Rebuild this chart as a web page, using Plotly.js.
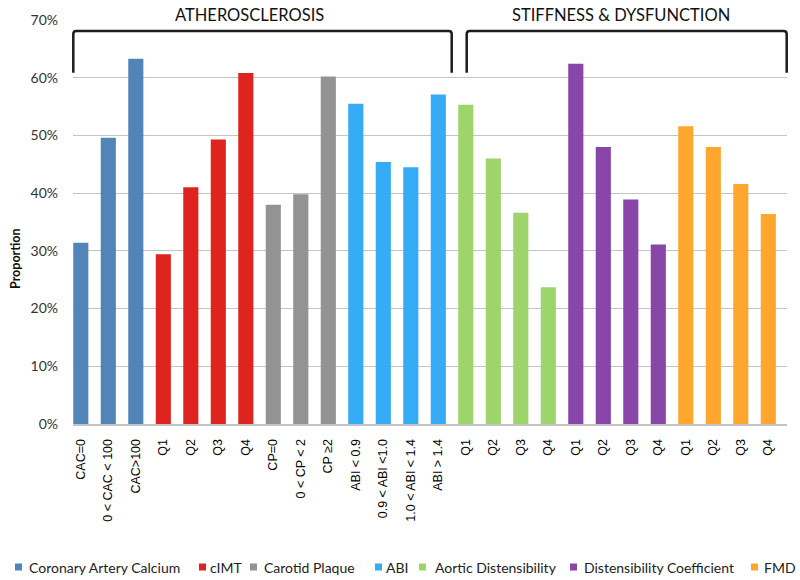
<!DOCTYPE html>
<html>
<head>
<meta charset="utf-8">
<script src="https://cdn.plot.ly/plotly-3.0.1.min.js"></script>
<style>html,body{margin:0;padding:0;background:#fff;}#chart{width:800px;height:580px;}</style>
</head>
<body>
<div id="chart"></div>
<script>
// ---- Data ----
const seriesNames = ["Coronary Artery Calcium", "cIMT", "Carotid Plaque", "ABI",
                     "Aortic Distensibility", "Distensibility Coefficient", "FMD"];
const cacLabels = ["CAC=0", "0 < CAC < 100", "CAC>100"];
const cacValues = [31.4, 49.6, 63.3];
const cimtLabels = ["Q1", "Q2", "Q3", "Q4"];
const cimtValues = [29.4, 41.0, 49.3, 60.8];
const cpLabels = ["CP=0", "0 < CP < 2", "CP \u22652"];
const cpValues = [38.0, 39.8, 60.2];
const abiLabels = ["ABI < 0.9", "0.9 < ABI <1.0", "1.0 < ABI < 1.4", "ABI > 1.4"];
const abiValues = [55.5, 45.4, 44.5, 57.1];
const adLabels = ["Q1", "Q2", "Q3", "Q4"];
const adValues = [55.3, 46.0, 36.6, 23.7];
const dcLabels = ["Q1", "Q2", "Q3", "Q4"];
const dcValues = [62.4, 48.0, 38.9, 31.1];
const fmdLabels = ["Q1", "Q2", "Q3", "Q4"];
const fmdValues = [51.6, 48.0, 41.6, 36.4];
const groupTitles = ["ATHEROSCLEROSIS", "STIFFNESS & DYSFUNCTION"];
const yTickValues = [0, 10, 20, 30, 40, 50, 60, 70];
const yTickLabels = ["0%", "10%", "20%", "30%", "40%", "50%", "60%", "70%"];

// ---- Styles ----
const colors = ["#5185b8", "#dd241f", "#939393", "#35acf5", "#9dd46b", "#8846a8", "#ffa62e"];
const groups = [
  [cacLabels, cacValues], [cimtLabels, cimtValues], [cpLabels, cpValues], [abiLabels, abiValues],
  [adLabels, adValues], [dcLabels, dcValues], [fmdLabels, fmdValues]
];

const W = 800, H = 580, L = 73, R = 787, T = 20, B = 424;
const xp = px => (px - L) / (R - L);
const yp = py => (B - py) / (B - T);

const traces = [];
const tickvals = [], ticktext = [];
let idx = 0;
groups.forEach((g, gi) => {
  const xs = [];
  g[0].forEach(lbl => { xs.push(idx); tickvals.push(idx); ticktext.push(lbl); idx++; });
  traces.push({
    type: "bar", x: xs, y: g[1], name: seriesNames[gi],
    marker: {color: colors[gi]}, width: 0.55, showlegend: false,
    hoverinfo: "y"
  });
});

const shapes = [];
function bracket(x1, x2, yt, yb, r) {
  const a = xp(x1), b = xp(x2), t = yp(yt), bt = yp(yb);
  const rx = r / (R - L), ry = r / (B - T);
  return {
    type: "path", xref: "paper", yref: "paper",
    path: `M ${a},${bt} L ${a},${t - ry} Q ${a},${t} ${a + rx},${t} L ${b - rx},${t} Q ${b},${t} ${b},${t - ry} L ${b},${bt}`,
    line: {color: "#1c1c1c", width: 2.5}
  };
}
shapes.push(bracket(73.3, 451.7, 31, 72.7, 3));
shapes.push(bracket(466.7, 786.7, 31, 72.7, 3));

const annotations = [];
annotations.push({text: groupTitles[0], xref: "paper", yref: "paper", x: xp(249), y: yp(15),
  xanchor: "center", yanchor: "middle", showarrow: false, font: {family: "Lato", size: 16.5, color: "#111"}});
annotations.push({text: groupTitles[1], xref: "paper", yref: "paper", x: xp(621), y: yp(15),
  xanchor: "center", yanchor: "middle", showarrow: false, font: {family: "Lato", size: 16.5, color: "#111"}});
annotations.push({text: "<b>Proportion</b>", xref: "paper", yref: "paper", x: xp(15), y: yp(259),
  xanchor: "center", yanchor: "middle", textangle: -90, showarrow: false, font: {family: "Lato", size: 12.5, color: "#111"}});

// custom legend
const legendSq = [15, 199, 250, 375, 419, 570, 751];
const legendTx = [27, 208, 262, 384, 433, 582, 762];
const legY = 567;
seriesNames.forEach((n, i) => {
  shapes.push({type: "rect", xref: "paper", yref: "paper",
    x0: xp(legendSq[i]), x1: xp(legendSq[i] + 7), y0: yp(legY + 3.5), y1: yp(legY - 3.5),
    fillcolor: colors[i], line: {width: 0}});
  annotations.push({text: n, xref: "paper", yref: "paper", x: xp(legendTx[i]), y: yp(legY),
    xanchor: "left", yanchor: "middle", showarrow: false, font: {family: "Lato", size: 14, color: "#222"}});
});

const layout = {
  width: W, height: H,
  margin: {l: L, r: W - R, t: T, b: H - B, pad: 0},
  paper_bgcolor: "#fff", plot_bgcolor: "#fff",
  barmode: "overlay",
  showlegend: false,
  xaxis: {
    range: [-0.284, 25.68], tickvals: tickvals, ticktext: ticktext, tickangle: -90,
    tickfont: {family: "Liberation Sans", size: 12.5, color: "#000"},
    showgrid: false, zeroline: false, showline: true, linecolor: "#c4c4c4", linewidth: 2,
    ticks: "", ticklabelstandoff: 8
  },
  yaxis: {
    range: [0, 70], tickvals: yTickValues, ticktext: yTickLabels,
    tickfont: {family: "Lato", size: 14, color: "#333"},
    showgrid: true, gridcolor: "#c4c4c4", gridwidth: 1, zeroline: false, showline: false,
    ticks: "", ticklabelstandoff: 14
  },
  shapes: shapes,
  annotations: annotations
};

Plotly.newPlot("chart", traces, layout, {displayModeBar: false, staticPlot: true});
</script>
</body>
</html>
